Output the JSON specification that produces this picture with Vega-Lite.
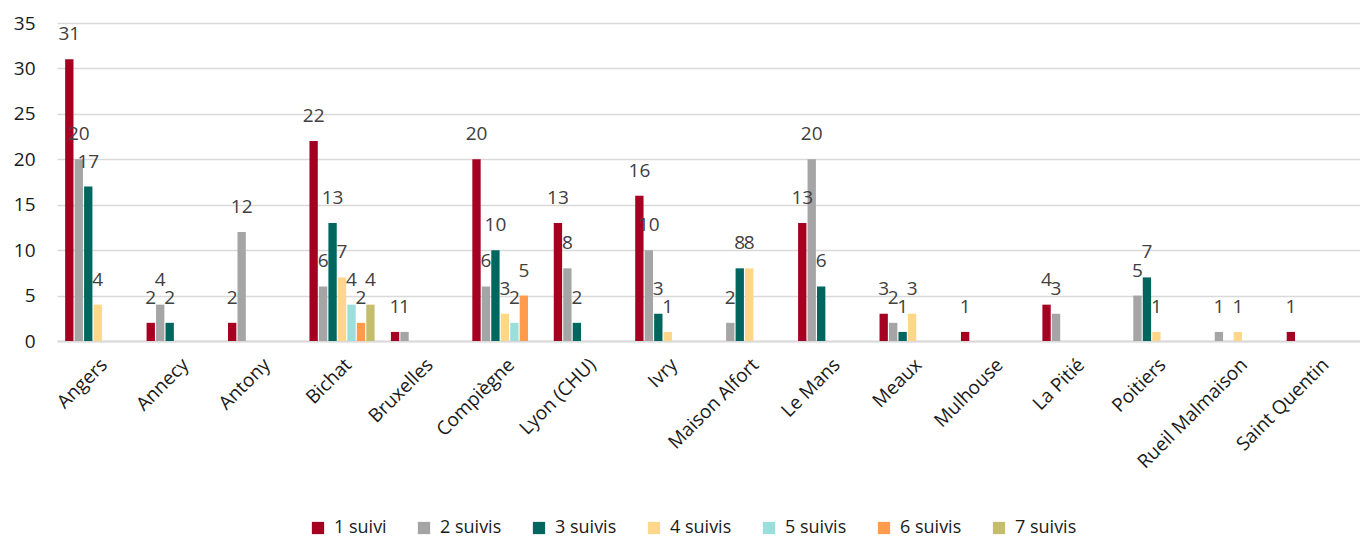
{
  "$schema": "https://vega.github.io/schema/vega-lite/v6.json",
  "width": 1303,
  "height": 318,
  "autosize": {"type": "none"},
  "padding": {"left": 57, "top": 23, "right": 0, "bottom": 200},
  "config": {
    "view": {"stroke": null},
    "font": "Open Sans",
    "axis": {"labelFont": "Open Sans", "labelColor": "#1a1a1a"},
    "legend": {"labelFont": "Open Sans"}
  },
  "data": {
    "values": [
      {"site": "Angers", "serie": "1 suivi", "n": 31},
      {"site": "Angers", "serie": "2 suivis", "n": 20},
      {"site": "Angers", "serie": "3 suivis", "n": 17},
      {"site": "Angers", "serie": "4 suivis", "n": 4},
      {"site": "Annecy", "serie": "1 suivi", "n": 2},
      {"site": "Annecy", "serie": "2 suivis", "n": 4},
      {"site": "Annecy", "serie": "3 suivis", "n": 2},
      {"site": "Antony", "serie": "1 suivi", "n": 2},
      {"site": "Antony", "serie": "2 suivis", "n": 12},
      {"site": "Bichat", "serie": "1 suivi", "n": 22},
      {"site": "Bichat", "serie": "2 suivis", "n": 6},
      {"site": "Bichat", "serie": "3 suivis", "n": 13},
      {"site": "Bichat", "serie": "4 suivis", "n": 7},
      {"site": "Bichat", "serie": "5 suivis", "n": 4},
      {"site": "Bichat", "serie": "6 suivis", "n": 2},
      {"site": "Bichat", "serie": "7 suivis", "n": 4},
      {"site": "Bruxelles", "serie": "1 suivi", "n": 1},
      {"site": "Bruxelles", "serie": "2 suivis", "n": 1},
      {"site": "Compiègne", "serie": "1 suivi", "n": 20},
      {"site": "Compiègne", "serie": "2 suivis", "n": 6},
      {"site": "Compiègne", "serie": "3 suivis", "n": 10},
      {"site": "Compiègne", "serie": "4 suivis", "n": 3},
      {"site": "Compiègne", "serie": "5 suivis", "n": 2},
      {"site": "Compiègne", "serie": "6 suivis", "n": 5},
      {"site": "Lyon (CHU)", "serie": "1 suivi", "n": 13},
      {"site": "Lyon (CHU)", "serie": "2 suivis", "n": 8},
      {"site": "Lyon (CHU)", "serie": "3 suivis", "n": 2},
      {"site": "Ivry", "serie": "1 suivi", "n": 16},
      {"site": "Ivry", "serie": "2 suivis", "n": 10},
      {"site": "Ivry", "serie": "3 suivis", "n": 3},
      {"site": "Ivry", "serie": "4 suivis", "n": 1},
      {"site": "Maison Alfort", "serie": "2 suivis", "n": 2},
      {"site": "Maison Alfort", "serie": "3 suivis", "n": 8},
      {"site": "Maison Alfort", "serie": "4 suivis", "n": 8},
      {"site": "Le Mans", "serie": "1 suivi", "n": 13},
      {"site": "Le Mans", "serie": "2 suivis", "n": 20},
      {"site": "Le Mans", "serie": "3 suivis", "n": 6},
      {"site": "Meaux", "serie": "1 suivi", "n": 3},
      {"site": "Meaux", "serie": "2 suivis", "n": 2},
      {"site": "Meaux", "serie": "3 suivis", "n": 1},
      {"site": "Meaux", "serie": "4 suivis", "n": 3},
      {"site": "Mulhouse", "serie": "1 suivi", "n": 1},
      {"site": "La Pitié", "serie": "1 suivi", "n": 4},
      {"site": "La Pitié", "serie": "2 suivis", "n": 3},
      {"site": "Poitiers", "serie": "2 suivis", "n": 5},
      {"site": "Poitiers", "serie": "3 suivis", "n": 7},
      {"site": "Poitiers", "serie": "4 suivis", "n": 1},
      {"site": "Rueil Malmaison", "serie": "2 suivis", "n": 1},
      {"site": "Rueil Malmaison", "serie": "4 suivis", "n": 1},
      {"site": "Saint Quentin", "serie": "1 suivi", "n": 1}
    ]
  },
  "encoding": {
    "x": {
      "field": "site",
      "type": "nominal",
      "sort": ["Angers", "Annecy", "Antony", "Bichat", "Bruxelles", "Compiègne", "Lyon (CHU)", "Ivry", "Maison Alfort", "Le Mans", "Meaux", "Mulhouse", "La Pitié", "Poitiers", "Rueil Malmaison", "Saint Quentin"],
      "scale": {"paddingInner": 0.2, "paddingOuter": 0.1},
      "axis": {
        "title": null,
        "labelAngle": -45,
        "labelFontSize": 19,
        "labelPadding": 14,
        "ticks": false,
        "domainColor": "#D9D9D9",
        "domainWidth": 2,
        "grid": false
      }
    },
    "xOffset": {
      "field": "serie",
      "type": "nominal",
      "scale": {"domain": ["1 suivi", "2 suivis", "3 suivis", "4 suivis", "5 suivis", "6 suivis", "7 suivis"], "paddingInner": 0.12, "paddingOuter": 0}
    },
    "y": {
      "field": "n",
      "type": "quantitative",
      "scale": {"domain": [0, 35], "nice": false},
      "axis": {
        "title": null,
        "values": [0, 5, 10, 15, 20, 25, 30, 35],
        "labelFontSize": 19,
        "labelPadding": 22,
        "ticks": false,
        "domain": false,
        "gridColor": "#D9D9D9",
        "gridWidth": 1.5
      }
    }
  },
  "layer": [
    {
      "mark": {"type": "bar"},
      "encoding": {
        "color": {
          "field": "serie",
          "type": "nominal",
          "scale": {
            "domain": ["1 suivi", "2 suivis", "3 suivis", "4 suivis", "5 suivis", "6 suivis", "7 suivis"],
            "range": ["#A50021", "#A5A5A5", "#00665E", "#FFD68A", "#9ADFDB", "#FF9B4D", "#C3BD6C"]
          },
          "legend": {
            "title": null,
            "orient": "none",
            "legendX": 252,
            "legendY": 496,
            "direction": "horizontal",
            "columns": 7,
            "symbolType": "square",
            "symbolSize": 150,
            "symbolStrokeWidth": 0,
            "labelFontSize": 18,
            "labelColor": "#1a1a1a",
            "labelOffset": 7,
            "columnPadding": 28
          }
        }
      }
    },
    {
      "mark": {"type": "text", "baseline": "alphabetic", "dy": -19, "fontSize": 19, "color": "#404040"},
      "encoding": {"text": {"field": "n", "type": "quantitative"}}
    }
  ]
}
